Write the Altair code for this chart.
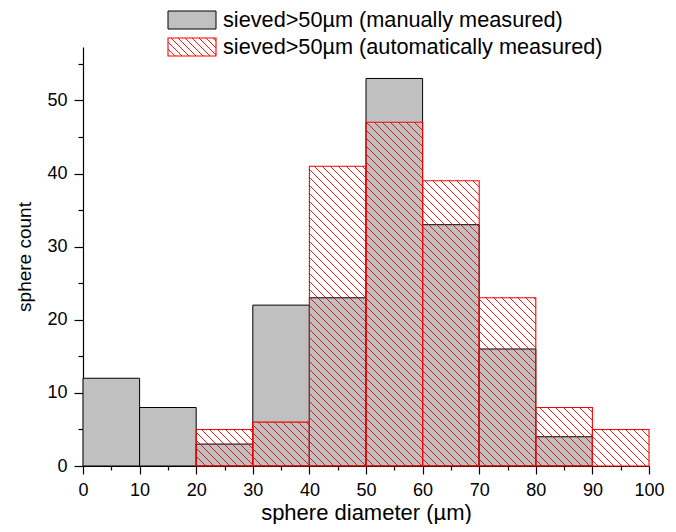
import altair as alt
import pandas as pd
import numpy as np

# ---- data ----
bin_start = [0, 10, 20, 30, 40, 50, 60, 70, 80, 90]
bin_end = [10, 20, 30, 40, 50, 60, 70, 80, 90, 100]
manual_counts = [12, 8, 3, 22, 23, 53, 33, 16, 4, 0]
auto_counts = [0, 0, 5, 6, 41, 47, 39, 23, 8, 5]
series_names = ["sieved>50µm (manually measured)", "sieved>50µm (automatically measured)"]
x_ticks = [0, 10, 20, 30, 40, 50, 60, 70, 80, 90, 100]
x_minor = [5, 15, 25, 35, 45, 55, 65, 75, 85, 95]
y_ticks = [0, 10, 20, 30, 40, 50]
y_minor = [5, 15, 25, 35, 45, 55]

W, H = 566, 419
XMAX, YMAX = 100, 57.3
FONT = "Liberation Sans"
GRAY = "#c0c0c0"
RED = "#ff0000"
PERIOD = 8.0  # hatch period in px (style)
LPERIOD = 7.0

kx = W / XMAX
ky = H / YMAX

manual = pd.DataFrame({"x0": bin_start, "x1": bin_end, "count": manual_counts})
manual = manual[manual["count"] > 0]
auto = pd.DataFrame({"x0": bin_start, "x1": bin_end, "count": auto_counts})
auto = auto[auto["count"] > 0]

# hatch lines derived from the automatic-count bars (x + y = d in pixel space)
rows = []
for a_, b_, c_ in zip(bin_start, bin_end, auto_counts):
    if c_ <= 0:
        continue
    a, b, h = a_ * kx, b_ * kx, c_ * ky
    k0 = int(np.floor(a / PERIOD))
    k1 = int(np.ceil((b + h) / PERIOD))
    for k in range(k0, k1 + 1):
        d = k * PERIOD + 3
        xs = max(a, d - h)
        xe = min(b, d)
        if xe - xs < 0.3:
            continue
        rows.append({"hx": xs / kx, "hy": (d - xs) / ky, "hx2": xe / kx, "hy2": (d - xe) / ky})
hatch = pd.DataFrame(rows)

xscale = alt.Scale(domain=[0, XMAX], nice=False, zero=False)
yscale = alt.Scale(domain=[0, YMAX], nice=False, zero=False)

major_x = alt.Axis(values=x_ticks, tickSize=8, labelFontSize=18, labelFont=FONT, labelColor="black",
                   labelPadding=7, title="sphere diameter (µm)", titleFont=FONT, titleFontSize=22,
                   titleFontWeight="normal", titleColor="black", titlePadding=3, domainColor="black",
                   tickColor="black", grid=False, orient="bottom", labelFlush=False)
minor_x = alt.Axis(values=x_minor, tickSize=4, labels=False, domain=False, title=None,
                   tickColor="black", grid=False, orient="bottom")
major_y = alt.Axis(values=y_ticks, tickSize=9, labelFontSize=18, labelFont=FONT, labelColor="black",
                   labelPadding=7, title="sphere count", titleFont=FONT, titleFontSize=19,
                   titleFontWeight="normal", titleColor="black", titlePadding=12, domainColor="black",
                   tickColor="black", grid=False, orient="left")
minor_y = alt.Axis(values=y_minor, tickSize=5, labels=False, domain=False, title=None,
                   tickColor="black", grid=False, orient="left")

gray_bars = alt.Chart(manual).mark_rect(fill=GRAY, stroke="black", strokeWidth=1).encode(
    x=alt.X("x0:Q", scale=xscale, axis=major_x),
    x2="x1:Q",
    y=alt.Y("count:Q", scale=yscale, axis=major_y),
    y2=alt.datum(0),
)

hatch_lines = alt.Chart(hatch).mark_rule(stroke=RED, strokeWidth=0.9).encode(
    x=alt.X("hx:Q", scale=xscale, axis=None),
    x2="hx2:Q",
    y=alt.Y("hy:Q", scale=yscale, axis=None),
    y2="hy2:Q",
)

red_bars = alt.Chart(auto).mark_rect(fill=None, stroke=RED, strokeWidth=1.1).encode(
    x=alt.X("x0:Q", scale=xscale, axis=minor_x),
    x2="x1:Q",
    y=alt.Y("count:Q", scale=yscale, axis=minor_y),
    y2=alt.datum(0),
)

# ---- legend (pixel space relative to plot origin) ----
lx0, lx1 = 85, 133
leg1 = (-36, -18)
leg2 = (-9, 9)
legend_rect1 = alt.Chart(pd.DataFrame({"a": [0]})).mark_rect(fill=GRAY, stroke="black", strokeWidth=1).encode(
    x=alt.value(lx0), x2=alt.value(lx1), y=alt.value(leg1[0]), y2=alt.value(leg1[1]))
legend_rect2 = alt.Chart(pd.DataFrame({"a": [0]})).mark_rect(fill=None, stroke=RED, strokeWidth=1.1).encode(
    x=alt.value(lx0), x2=alt.value(lx1), y=alt.value(leg2[0]), y2=alt.value(leg2[1]))

lrows = []
lh = leg2[1] - leg2[0]
for k in range(0, int((lx1 - lx0 + lh) / LPERIOD) + 2):
    d = k * LPERIOD
    xs = max(0, d - lh)
    xe = min(lx1 - lx0, d)
    if xe - xs < 0.3:
        continue
    lrows.append({"px": lx0 + xs, "py": leg2[1] - (d - xs), "px2": lx0 + xe, "py2": leg2[1] - (d - xe)})
lhatch = pd.DataFrame(lrows)
legend_hatch = alt.Chart(lhatch).mark_rule(stroke=RED, strokeWidth=0.9).encode(
    x=alt.X("px:Q", scale=None), x2="px2:Q", y=alt.Y("py:Q", scale=None), y2="py2:Q")

legend_text = alt.Chart(pd.DataFrame({"label": series_names, "ty": [(leg1[0] + leg1[1]) / 2, (leg2[0] + leg2[1]) / 2]})).mark_text(
    align="left", baseline="middle", font=FONT, fontSize=21.7, color="black").encode(
    x=alt.value(lx1 + 7), y=alt.Y("ty:Q", scale=None), text="label:N")

chart = alt.layer(
    gray_bars, hatch_lines, red_bars, legend_rect1, legend_hatch, legend_rect2, legend_text
).resolve_axis(x="independent", y="independent").properties(
    width=W, height=H,
    autosize=alt.AutoSizeParams(type="none"),
    padding={"left": 75, "top": 39, "right": 19, "bottom": 58},
).configure_view(stroke=None).configure_axis(domainWidth=1.2, tickWidth=1.2)

chart.save("out.html", embed_options={"renderer": "svg", "actions": False})
